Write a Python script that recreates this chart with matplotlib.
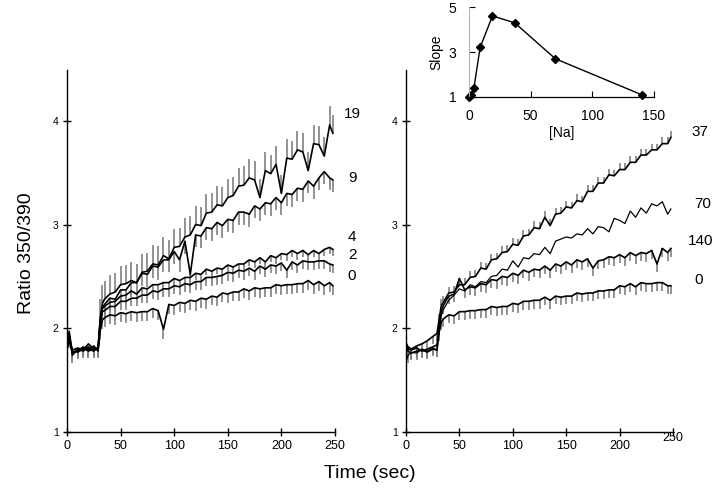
import matplotlib
matplotlib.use('Agg')
import matplotlib.pyplot as plt
from matplotlib.transforms import ScaledTranslation

plt.rcParams['font.family'] = ['Liberation Sans', 'DejaVu Sans']

# sample times (sec), shared by all traces
times = [0, 2, 5, 10, 15, 20, 25, 29, 31, 33,
         35, 40, 45, 50, 55, 60, 65, 70, 75, 80,
         85, 90, 95, 100, 105, 110, 115, 120, 125, 130,
         135, 140, 145, 150, 155, 160, 165, 170, 175, 180,
         185, 190, 195, 200, 205, 210, 215, 220, 225, 230,
         235, 240, 245, 248]

# left panel: [Na] = 0, 2, 4, 9, 19
left_0 = [1.84, 1.90, 1.76, 1.79, 1.81, 1.78, 1.80, 1.79, 1.98, 2.08,
          2.10, 2.13, 2.12, 2.15, 2.14, 2.16, 2.15, 2.16, 2.16, 2.19,
          2.17, 1.99, 2.23, 2.22, 2.25, 2.24, 2.27, 2.26, 2.29, 2.28,
          2.31, 2.30, 2.34, 2.33, 2.35, 2.35, 2.38, 2.36, 2.39, 2.38,
          2.39, 2.39, 2.42, 2.41, 2.42, 2.42, 2.43, 2.43, 2.46, 2.42,
          2.45, 2.41, 2.44, 2.41]
left_2 = [1.86, 1.95, 1.74, 1.80, 1.78, 1.82, 1.79, 1.81, 2.05, 2.16,
          2.17, 2.21, 2.21, 2.26, 2.26, 2.29, 2.29, 2.32, 2.32, 2.36,
          2.35, 2.38, 2.38, 2.41, 2.40, 2.43, 2.42, 2.45, 2.45, 2.49,
          2.49, 2.50, 2.51, 2.54, 2.53, 2.56, 2.55, 2.58, 2.55, 2.60,
          2.57, 2.61, 2.60, 2.63, 2.56, 2.64, 2.61, 2.65, 2.64, 2.64,
          2.65, 2.65, 2.62, 2.61]
left_4 = [1.82, 1.92, 1.78, 1.77, 1.80, 1.79, 1.83, 1.78, 2.06, 2.19,
          2.21, 2.25, 2.26, 2.31, 2.32, 2.36, 2.33, 2.39, 2.38, 2.42,
          2.42, 2.44, 2.44, 2.48, 2.46, 2.49, 2.49, 2.53, 2.52, 2.57,
          2.55, 2.58, 2.57, 2.61, 2.59, 2.62, 2.62, 2.66, 2.64, 2.68,
          2.64, 2.70, 2.68, 2.72, 2.71, 2.75, 2.72, 2.75, 2.71, 2.75,
          2.72, 2.76, 2.78, 2.76]
left_9 = [1.80, 1.88, 1.79, 1.81, 1.79, 1.85, 1.80, 1.80, 2.08, 2.20,
          2.23, 2.29, 2.28, 2.37, 2.37, 2.44, 2.44, 2.53, 2.52, 2.60,
          2.59, 2.66, 2.66, 2.74, 2.66, 2.84, 2.52, 2.90, 2.89, 2.97,
          2.96, 3.02, 2.99, 3.05, 3.04, 3.12, 3.12, 3.10, 3.18, 3.15,
          3.21, 3.20, 3.26, 3.21, 3.30, 3.29, 3.35, 3.34, 3.42, 3.37,
          3.45, 3.51, 3.45, 3.43]
left_19 = [1.83, 1.97, 1.77, 1.78, 1.82, 1.80, 1.78, 1.82, 2.10, 2.24,
           2.28, 2.33, 2.35, 2.42, 2.43, 2.46, 2.44, 2.54, 2.55, 2.62,
           2.61, 2.70, 2.67, 2.78, 2.79, 2.88, 2.90, 3.00, 2.99, 3.11,
           3.12, 3.19, 3.18, 3.26, 3.28, 3.37, 3.38, 3.45, 3.43, 3.26,
           3.52, 3.49, 3.58, 3.30, 3.64, 3.63, 3.72, 3.70, 3.52, 3.78,
           3.77, 3.66, 3.96, 3.88]

# right panel: [Na] = 0, 140, 70, 37
right_0 = [1.82, 1.78, 1.76, 1.78, 1.79, 1.77, 1.80, 1.79, 1.96, 2.06,
           2.09, 2.13, 2.12, 2.16, 2.16, 2.17, 2.17, 2.18, 2.18, 2.21,
           2.20, 2.21, 2.21, 2.24, 2.23, 2.26, 2.26, 2.27, 2.27, 2.30,
           2.27, 2.31, 2.30, 2.31, 2.31, 2.34, 2.33, 2.34, 2.34, 2.36,
           2.36, 2.37, 2.37, 2.41, 2.40, 2.43, 2.40, 2.44, 2.43, 2.43,
           2.44, 2.44, 2.41, 2.41]
right_140 = [1.84, 1.80, 1.79, 1.81, 1.78, 1.80, 1.82, 1.84, 2.02, 2.17,
             2.22, 2.31, 2.33, 2.48, 2.37, 2.40, 2.39, 2.43, 2.42, 2.47,
             2.46, 2.50, 2.49, 2.53, 2.51, 2.56, 2.54, 2.57, 2.56, 2.60,
             2.56, 2.62, 2.60, 2.64, 2.61, 2.66, 2.64, 2.67, 2.58, 2.65,
             2.66, 2.69, 2.68, 2.71, 2.68, 2.73, 2.70, 2.73, 2.72, 2.75,
             2.62, 2.77, 2.73, 2.77]
right_70 = [1.68, 1.74, 1.77, 1.76, 1.80, 1.78, 1.81, 1.79, 1.98, 2.12,
            2.18, 2.27, 2.32, 2.38, 2.36, 2.42, 2.40, 2.45, 2.44, 2.50,
            2.51, 2.57, 2.56, 2.65, 2.59, 2.68, 2.67, 2.72, 2.71, 2.78,
            2.72, 2.84, 2.86, 2.88, 2.87, 2.91, 2.90, 2.96, 2.91, 2.98,
            2.97, 2.93, 3.06, 3.04, 3.01, 3.13, 3.07, 3.16, 3.11, 3.20,
            3.18, 3.22, 3.10, 3.15]
right_37 = [1.86, 1.82, 1.80, 1.83, 1.85, 1.88, 1.92, 1.95, 2.08, 2.22,
            2.25, 2.34, 2.35, 2.42, 2.42, 2.49, 2.50, 2.58, 2.57, 2.66,
            2.67, 2.73, 2.74, 2.81, 2.80, 2.89, 2.90, 2.97, 2.96, 3.07,
            2.99, 3.10, 3.11, 3.17, 3.16, 3.23, 3.22, 3.32, 3.32, 3.40,
            3.40, 3.48, 3.47, 3.53, 3.53, 3.60, 3.60, 3.67, 3.67, 3.72,
            3.72, 3.78, 3.78, 3.84]

# grey sample spikes after the step (signed length in ratio units)
left_spikes = {'0': -0.09, '2': -0.08, '4': -0.06, '9': -0.12, '19': 0.18}
right_spikes = {'0': -0.08, '140': -0.08, '70': 0.0, '37': 0.06}

# inset: slope vs [Na]
na_conc = [0, 2, 4, 9, 19, 37, 70, 140]
slope = [1.0, 1.1, 1.4, 3.2, 4.6, 4.3, 2.7, 1.1]

left_traces = {'0': left_0, '2': left_2, '4': left_4, '9': left_9, '19': left_19}
right_traces = {'0': right_0, '140': right_140, '70': right_70, '37': right_37}

# label anchor positions (time, ratio) next to trace ends
left_label_pos = {'19': (258, 4.07), '9': (262, 3.45), '4': (262, 2.88),
                  '2': (262, 2.71), '0': (262, 2.50)}
right_label_pos = {'37': (267, 3.89), '70': (270, 3.20), '140': (264, 2.84),
                   '0': (270, 2.47)}

fig = plt.figure(figsize=(7.2, 4.94), dpi=100)
ax_l = fig.add_axes([67 / 720, 62 / 494, 268 / 720, 362 / 494])
ax_r = fig.add_axes([406 / 720, 62 / 494, 267 / 720, 362 / 494])


def draw_panel(ax, traces, spikes, label_pos):
    for name, vals in traces.items():
        amp = spikes[name]
        # before the step every trace has small downward spikes
        tips = [v - 0.07 if t < 30 else v + amp for t, v in zip(times, vals)]
        if amp != 0:
            ax.vlines(times, vals, tips, colors='0.5', linewidth=1.2, zorder=1)
        else:
            ax.vlines(times[:8], vals[:8], tips[:8], colors='0.5', linewidth=1.2, zorder=1)
        lw = 0.9 if amp == 0 else 1.2
        ax.plot(times, vals, color='black', linewidth=lw, zorder=2)
    for name, (tx, ty) in label_pos.items():
        ax.text(tx, ty, name, fontsize=11, ha='left', va='center', clip_on=False)
    ax.set_xlim(0, 250)
    ax.set_ylim(1, 4.49)
    ax.set_xticks([0, 50, 100, 150, 200, 250])
    ax.set_yticks([1, 2, 3, 4])
    for s in ['top', 'right']:
        ax.spines[s].set_visible(False)
    ax.spines['left'].set_linewidth(1.0)
    ax.spines['bottom'].set_linewidth(1.0)
    ax.tick_params(axis='both', direction='inout', length=6, width=1.0)
    ax.tick_params(axis='x', labelsize=9, pad=3)
    ax.tick_params(axis='y', labelsize=7.5, pad=3)


draw_panel(ax_l, left_traces, left_spikes, left_label_pos)
draw_panel(ax_r, right_traces, right_spikes, right_label_pos)

# the last tick label on the right panel sits a bit higher
lbl = ax_r.get_xticklabels()[-1]
lbl.set_transform(lbl.get_transform() + ScaledTranslation(0, 6 / 72, fig.dpi_scale_trans))

fig.text(27 / 720, 1 - 253 / 494, 'Ratio 350/390', rotation=90, fontsize=14,
         ha='center', va='center')
fig.text(370 / 720, 1 - 473 / 494, 'Time (sec)', fontsize=14, ha='center', va='center')

# inset
ax_in = fig.add_axes([469 / 720, 1 - 97 / 494, 185 / 720, 90 / 494])
ax_in.plot(na_conc, slope, color='black', linewidth=1.0, marker='D', markersize=4,
           clip_on=False)
ax_in.set_xlim(0, 150)
ax_in.set_ylim(1, 5)
ax_in.set_xticks([0, 50, 100, 150])
ax_in.set_yticks([1, 3, 5])
for s in ['top', 'right']:
    ax_in.spines[s].set_visible(False)
ax_in.spines['left'].set_color('0.7')
ax_in.spines['bottom'].set_linewidth(0.9)
ax_in.tick_params(axis='both', direction='in', length=4, width=0.8, labelsize=10, pad=9)
ax_in.set_xlabel('[Na]', fontsize=10, labelpad=2)
ax_in.set_ylabel('Slope', fontsize=10, labelpad=4)
ax_in.patch.set_alpha(0)

plt.savefig('out.png', dpi=100)
plt.close()
